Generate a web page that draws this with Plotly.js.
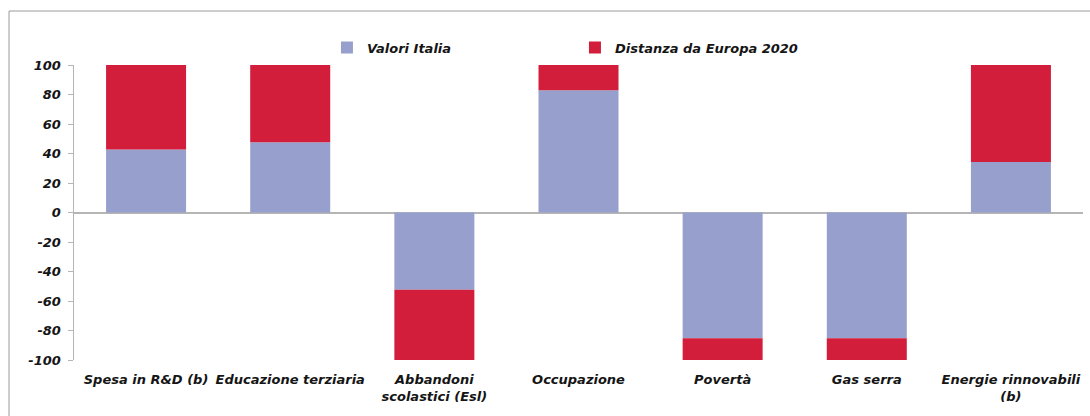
<!DOCTYPE html>
<html>
<head>
<meta charset="utf-8">
<script src="https://cdn.plot.ly/plotly-3.0.1.min.js"></script>
<style>html,body{margin:0;padding:0;background:#fff;}#chart{width:1090px;height:416px;}</style>
</head>
<body>
<div id="chart"></div>
<script>
const categories = ["Spesa in R&D (b)", "Educazione terziaria", "Abbandoni<br>scolastici (Esl)", "Occupazione", "Povertà", "Gas serra", "Energie rinnovabili<br>(b)"];
const valoriItalia = [42.7, 47.6, -52.4, 82.9, -85.3, -85.3, 34.3];
const distanzaEuropa = [57.3, 52.4, -47.6, 17.1, -14.7, -14.7, 65.7];
const yTicks = [100, 80, 60, 40, 20, 0, -20, -40, -60, -80, -100];

const font = {family: "DejaVu Sans, Liberation Sans, Arial, sans-serif", size: 13, color: "#151515", weight: "bold", style: "italic"};

const traces = [
  {type: "bar", name: "Valori Italia", x: categories, y: valoriItalia, marker: {color: "#979fcd"}, width: 0.555},
  {type: "bar", name: "Distanza da Europa 2020", x: categories, y: distanzaEuropa, marker: {color: "#d21e3a"}, width: 0.555}
];

const layout = {
  width: 1090, height: 416,
  margin: {l: 74, r: 7, t: 65, b: 56},
  paper_bgcolor: "#fff", plot_bgcolor: "#fff",
  barmode: "relative",
  font: font,
  showlegend: true,
  legend: {orientation: "h", x: 0.2507, xanchor: "left", y: 1.059, yanchor: "middle",
           font: font, entrywidth: 203, itemwidth: 30, bgcolor: "rgba(0,0,0,0)"},
  xaxis: {type: "category", range: [-0.5, 6.5], showline: false, showgrid: false, zeroline: false,
          ticks: "", tickfont: font, ticklabelstandoff: 10, fixedrange: true},
  yaxis: {range: [-100, 100], tickvals: yTicks, ticktext: yTicks.map(String), showgrid: false,
          showline: true, linecolor: "#b5b5b5", linewidth: 1.5, ticks: "outside", ticklen: 5,
          tickcolor: "#b5b5b5", zeroline: true, zerolinecolor: "#b5b5b5", zerolinewidth: 2,
          tickfont: font, ticklabelstandoff: 4, fixedrange: true},
  shapes: [{type: "rect", xref: "paper", yref: "paper", x0: -0.0644, x1: 1.02, y0: -0.22, y1: 1.183,
            line: {color: "#9a9a9a", width: 1}, fillcolor: "rgba(0,0,0,0)", layer: "below"}]
};

Plotly.newPlot("chart", traces, layout, {displayModeBar: false, staticPlot: true});
</script>
</body>
</html>
